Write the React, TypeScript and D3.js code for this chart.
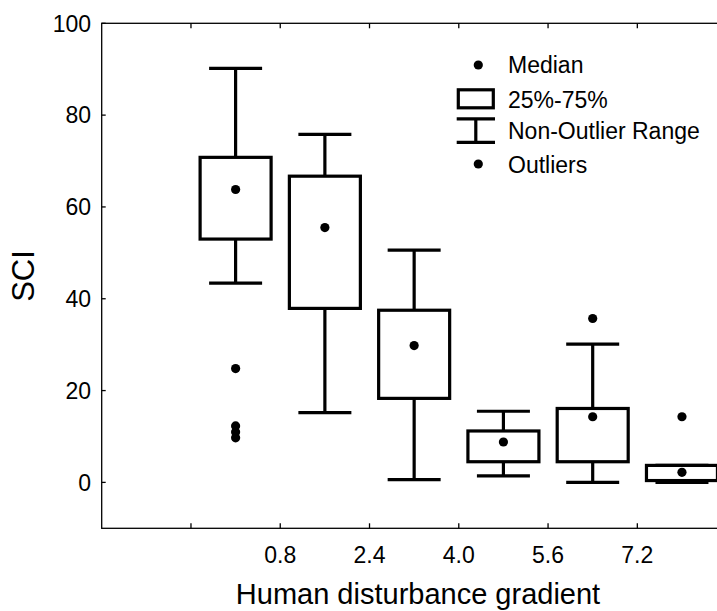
import React from "react";
import * as d3 from "d3";

// ---- data ----
const groupX = [0, 1.6, 3.2, 4.8, 6.4, 8.0];
const whiskerHigh = [90.2, 75.8, 50.6, 15.5, 30.1, 3.7];
const q3 = [70.8, 66.7, 37.5, 11.2, 16.1, 3.7];
const median = [63.8, 55.5, 29.8, 8.8, 14.3, 2.2];
const q1 = [53.0, 37.9, 18.3, 4.5, 4.5, 0.4];
const whiskerLow = [43.4, 15.2, 0.6, 1.4, 0.0, 0.0];
const outliers: number[][] = [[24.8, 12.3, 11.0, 9.7], [], [], [], [35.7], [14.3]];

const xTicks = [-0.8, 0.8, 2.4, 4.0, 5.6, 7.2];
const xTickLabels = ["", "0.8", "2.4", "4.0", "5.6", "7.2"];
const yTicks = [0, 20, 40, 60, 80, 100];

const legendItems = ["Median", "25%-75%", "Non-Outlier Range", "Outliers"];

const FONT = "'Liberation Sans', Arial, sans-serif";

export default function App() {
  const W = 717;
  const H = 611;
  const left = 101.7;
  const right = 726.6;
  const top = 23.3;
  const bottom = 528.3;

  const x = d3.scaleLinear().domain([-2.4, 8.8]).range([left, right]);
  const y = d3.scaleLinear().domain([-10, 100]).range([bottom, top]);

  const boxW = 71;
  const capW = 53;
  const sw = 3.2;
  const r = 4.6;

  return (
    <svg
      width={W}
      height={H}
      style={{ position: "absolute", left: 0, top: 0, background: "#fff" }}
      fontFamily={FONT}
    >
      <rect x={0} y={0} width={W} height={H} fill="#fff" />
      {/* frame */}
      <rect
        x={left}
        y={top}
        width={right - left}
        height={bottom - top}
        fill="none"
        stroke="#000"
        strokeWidth={1.3}
      />
      {/* x ticks (inside, top & bottom) */}
      {xTicks.map((t, i) => (
        <g key={"xt" + i}>
          <line x1={x(t)} x2={x(t)} y1={bottom} y2={bottom - 5} stroke="#000" strokeWidth={1.3} />
          <line x1={x(t)} x2={x(t)} y1={top} y2={top + 5} stroke="#000" strokeWidth={1.3} />
          <text
            x={x(t)}
            y={562.5}
            fontSize={23}
            textAnchor="middle"
            fill="#000"
          >
            {xTickLabels[i]}
          </text>
        </g>
      ))}
      {/* y ticks */}
      {yTicks.map((t) => (
        <g key={"yt" + t}>
          <line x1={left} x2={left + 4} y1={y(t)} y2={y(t)} stroke="#000" strokeWidth={1.3} />
          <text
            x={91}
            y={y(t)}
            dy="0.36em"
            fontSize={23}
            textAnchor="end"
            fill="#000"
          >
            {t}
          </text>
        </g>
      ))}
      {/* axis titles */}
      <text x={418} y={604} fontSize={29} textAnchor="middle" fill="#000">
        Human disturbance gradient
      </text>
      <text
        transform={`translate(22.5,276) rotate(-90)`}
        dy="0.36em"
        fontSize={31}
        textAnchor="middle"
        fill="#000"
      >
        SCI
      </text>

      {/* boxes */}
      {groupX.map((gx, i) => {
        const cx = x(gx);
        return (
          <g key={"b" + i} stroke="#000" strokeWidth={sw} fill="none">
            <line x1={cx} x2={cx} y1={y(whiskerHigh[i])} y2={y(q3[i])} />
            <line x1={cx} x2={cx} y1={y(q1[i])} y2={y(whiskerLow[i])} />
            <line x1={cx - capW / 2} x2={cx + capW / 2} y1={y(whiskerHigh[i])} y2={y(whiskerHigh[i])} />
            <line x1={cx - capW / 2} x2={cx + capW / 2} y1={y(whiskerLow[i])} y2={y(whiskerLow[i])} />
            <rect
              x={cx - boxW / 2}
              y={y(q3[i])}
              width={boxW}
              height={y(q1[i]) - y(q3[i])}
              fill="#fff"
            />
            <circle cx={cx} cy={y(median[i])} r={r} fill="#000" stroke="none" />
            {outliers[i].map((o, j) => (
              <circle key={j} cx={cx} cy={y(o)} r={r} fill="#000" stroke="none" />
            ))}
          </g>
        );
      })}

      {/* legend */}
      <g>
        <circle cx={478.3} cy={65} r={r} fill="#000" />
        <rect x={458.3} y={89.8} width={35} height={18} fill="none" stroke="#000" strokeWidth={sw} />
        <line x1={456.7} x2={495} y1={118.9} y2={118.9} stroke="#000" strokeWidth={sw} />
        <line x1={456.7} x2={495} y1={142.4} y2={142.4} stroke="#000" strokeWidth={sw} />
        <line x1={475.8} x2={475.8} y1={118.9} y2={142.4} stroke="#000" strokeWidth={sw} />
        <circle cx={478.3} cy={164} r={r} fill="#000" />
        {legendItems.map((t, i) => (
          <text
            key={t}
            x={508}
            y={[65, 100, 131, 165][i]}
            dy="0.36em"
            fontSize={23}
            fill="#000"
          >
            {t}
          </text>
        ))}
      </g>
    </svg>
  );
}
